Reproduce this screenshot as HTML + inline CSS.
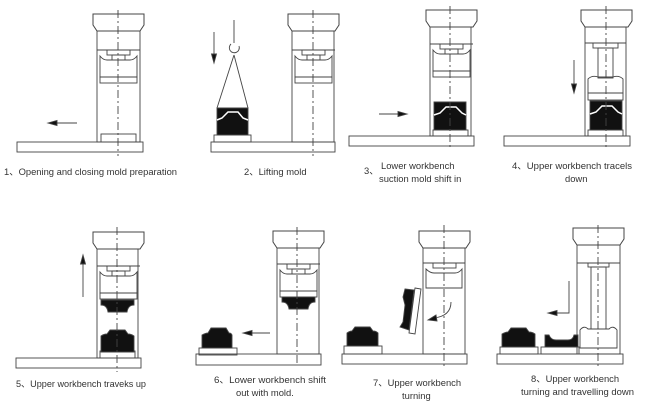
<!DOCTYPE html>
<html><head><meta charset="utf-8"><style>
html,body{margin:0;padding:0;background:#fff;}
svg{display:block;}
text{font-family:"Liberation Sans",sans-serif;font-size:9.4px;fill:#333;}
</style></head><body>
<svg width="650" height="413" viewBox="0 0 650 413" xmlns="http://www.w3.org/2000/svg">
<defs>
<g id="cap" fill="#fff" stroke="#444" stroke-width="1">
<path d="M-4,0 H47 V11 L43,17 H0 L-4,11 Z"/>
</g>
<g id="ub" fill="none" stroke="#444" stroke-width="0.9">
<line x1="0" y1="0" x2="43" y2="0"/>
<rect x="10" y="0" width="23" height="5"/>
<rect x="15" y="5" width="13" height="5"/>
<path d="M3,6 Q6,10 10,10 H33 Q37,10 40,6 V27 H3 Z"/>
<rect x="3" y="27" width="37" height="6"/>
</g>
</defs>
<g stroke="#444" stroke-width="0.9" fill="none">
<!-- Panel 1 -->
<rect x="17" y="142" width="126" height="10" fill="#fff"/>
<rect x="97" y="31" width="43" height="111"/>
<use href="#cap" x="97" y="14"/>
<use href="#ub" x="97" y="50"/>
<rect x="101" y="134" width="35" height="8"/>
<line x1="118" y1="10" x2="118" y2="156" stroke-dasharray="8,3,2,3"/>
<line x1="54" y1="123" x2="77" y2="123"/>
<path d="M48,123 L57,120.5 L57,125.5 Z" fill="#111"/>

<!-- Panel 2 -->
<rect x="211" y="142" width="124" height="10" fill="#fff"/>
<rect x="292" y="31" width="42" height="111"/>
<use href="#cap" x="292" y="14"/>
<use href="#ub" x="292" y="50"/>
<line x1="313" y1="10" x2="313" y2="156" stroke-dasharray="8,3,2,3"/>
<rect x="214" y="135" width="37" height="7"/>
<line x1="234" y1="20" x2="234" y2="43"/>
<path d="M231,44 A5,5 0 1 0 239,46"/>
<line x1="234" y1="55" x2="217" y2="108"/>
<line x1="234" y1="55" x2="248" y2="108"/>
<line x1="214" y1="32" x2="214" y2="56"/>
<path d="M214,63 L211.5,54 L216.5,54 Z" fill="#111"/>
<path d="M217,108 H248 V135 H217 Z" fill="#111"/>
<path d="M217,120 L222,118 L228,112 H238 L243,118 L248,120" stroke="#fff" stroke-width="1.5"/>

<!-- Panel 3 -->
<rect x="349" y="136" width="125" height="10" fill="#fff"/>
<rect x="430" y="26" width="41" height="110"/>
<use href="#cap" x="430" y="10"/>
<use href="#ub" x="430" y="44"/>
<rect x="433" y="130" width="35" height="6"/>
<path d="M434,102 H466 V130 H434 Z" fill="#111"/>
<path d="M434,115 L440,113 L446,107 H456 L462,113 L466,115" stroke="#fff" stroke-width="1.5"/>
<line x1="450" y1="6" x2="450" y2="148" stroke-dasharray="8,3,2,3"/>
<line x1="379" y1="114" x2="400" y2="114"/>
<path d="M407,114 L398,111.5 L398,116.5 Z" fill="#111"/>

<!-- Panel 4 -->
<rect x="504" y="136" width="126" height="10" fill="#fff"/>
<rect x="585" y="26" width="41" height="110"/>
<use href="#cap" x="585" y="10"/>
<line x1="585" y1="43" x2="626" y2="43"/>
<rect x="593" y="43" width="25" height="5"/>
<rect x="598" y="48" width="15" height="30"/>
<path d="M588,79 Q592,75 598,77 H613 Q619,75 623,79 V93 H588 Z"/>
<rect x="588" y="93" width="35" height="7"/>
<rect x="588" y="130" width="35" height="6"/>
<path d="M590,101 H622 V130 H590 Z" fill="#111"/>
<path d="M590,114 L596,112 L602,106 H612 L618,112 L622,114" stroke="#fff" stroke-width="1.5"/>
<line x1="606" y1="6" x2="606" y2="148" stroke-dasharray="8,3,2,3"/>
<line x1="574" y1="60" x2="574" y2="86"/>
<path d="M574,93 L571.5,84 L576.5,84 Z" fill="#111"/>

<!-- Panel 5 -->
<rect x="16" y="358" width="125" height="10" fill="#fff"/>
<rect x="97" y="248" width="41" height="110"/>
<use href="#cap" x="97" y="232"/>
<use href="#ub" x="97" y="266"/>
<rect x="100" y="351" width="35" height="7"/>
<path d="M101,300 H134 V305 Q128,305 127,312 H108 Q107,305 101,305 Z" fill="#111"/>
<path d="M101,352 V336 Q104,334 107,334 L110,330 H125 L128,334 Q131,334 134,336 V352 Z" fill="#111"/>
<line x1="117" y1="227" x2="117" y2="372" stroke-dasharray="8,3,2,3"/>
<line x1="83" y1="262" x2="83" y2="297"/>
<path d="M83,255 L80.5,264 L85.5,264 Z" fill="#111"/>

<!-- Panel 6 -->
<rect x="196" y="354" width="125" height="11" fill="#fff"/>
<rect x="277" y="248" width="42" height="106"/>
<use href="#cap" x="277" y="231"/>
<use href="#ub" x="277" y="264"/>
<path d="M282,297 H315 V302 Q309,302 308,309 H289 Q288,302 282,302 Z" fill="#111"/>
<line x1="297" y1="227" x2="297" y2="366" stroke-dasharray="8,3,2,3"/>
<rect x="199" y="348" width="38" height="7"/>
<path d="M202,348 V335 Q206,333 208,333 L211,328 H226 L229,333 Q231,333 232,335 V348 Z" fill="#111"/>
<line x1="250" y1="333" x2="270" y2="333"/>
<path d="M243,333 L252,330.5 L252,335.5 Z" fill="#111"/>

<!-- Panel 7 -->
<rect x="342" y="354" width="125" height="10" fill="#fff"/>
<rect x="423" y="248" width="42" height="106"/>
<use href="#cap" x="423" y="231"/>
<line x1="423" y1="263" x2="465" y2="263"/>
<rect x="433" y="263" width="23" height="5"/>
<path d="M426,269 Q430,273 434,273 H455 Q459,273 462,269 V288 H426 Z"/>
<line x1="444" y1="225" x2="444" y2="366" stroke-dasharray="8,3,2,3"/>
<path d="M415,288 L421,289 L415,334 L409,333 Z" fill="#fff"/>
<path d="M405,289 L414,290 L409,330 L400,327 L403,322 L405,305 L403,297 Z" fill="#111"/>
<path d="M451,302 Q451,316 434,318"/>
<path d="M428,320 L436,315 L437,321 Z" fill="#111"/>
<rect x="344" y="346" width="38" height="8"/>
<path d="M347,346 V333 Q350,331 352,331 L355,327 H370 L373,331 Q376,331 378,333 V346 Z" fill="#111"/>

<!-- Panel 8 -->
<rect x="497" y="354" width="126" height="10" fill="#fff"/>
<rect x="577" y="245" width="43" height="109"/>
<use href="#cap" x="577" y="228"/>
<line x1="577" y1="263" x2="620" y2="263"/>
<rect x="588" y="263" width="21" height="4"/>
<rect x="591" y="267" width="15" height="62"/>
<path d="M580,330 Q584,325 588,329 H609 Q613,325 617,330 V348 H580 Z"/>
<line x1="598" y1="225" x2="598" y2="366" stroke-dasharray="8,3,2,3"/>
<rect x="500" y="347" width="38" height="7"/>
<path d="M502,347 V334 Q506,332 508,332 L511,328 H526 L529,332 Q532,332 535,334 V347 Z" fill="#111"/>
<rect x="541" y="347" width="38" height="7"/>
<path d="M545,335 H549 Q551,340 556,340 H568 Q573,340 574,335 H578 V347 H545 Z" fill="#111"/>
<path d="M569,281 V313 H555"/>
<path d="M548,313 L557,310.5 L557,315.5 Z" fill="#111"/>
</g>
<g>
<text x="4" y="175" textLength="173" lengthAdjust="spacingAndGlyphs">1、Opening and closing mold preparation</text>
<text x="244" y="175">2、Lifting mold</text>
<text x="364" y="174">3、</text>
<text x="381" y="169">Lower workbench</text>
<text x="379" y="182">suction mold shift in</text>
<text x="512" y="169" textLength="120" lengthAdjust="spacingAndGlyphs">4、Upper workbench tracels</text>
<text x="565" y="182">down</text>
<text x="16" y="387" textLength="130" lengthAdjust="spacingAndGlyphs">5、Upper workbench traveks up</text>
<text x="214" y="383" textLength="112" lengthAdjust="spacingAndGlyphs">6、Lower workbench shift</text>
<text x="236" y="396">out with mold.</text>
<text x="373" y="386">7、Upper workbench</text>
<text x="402" y="399">turning</text>
<text x="531" y="382">8、Upper workbench</text>
<text x="521" y="395" textLength="113" lengthAdjust="spacingAndGlyphs">turning and travelling down</text>
</g>
</svg>
</body></html>
